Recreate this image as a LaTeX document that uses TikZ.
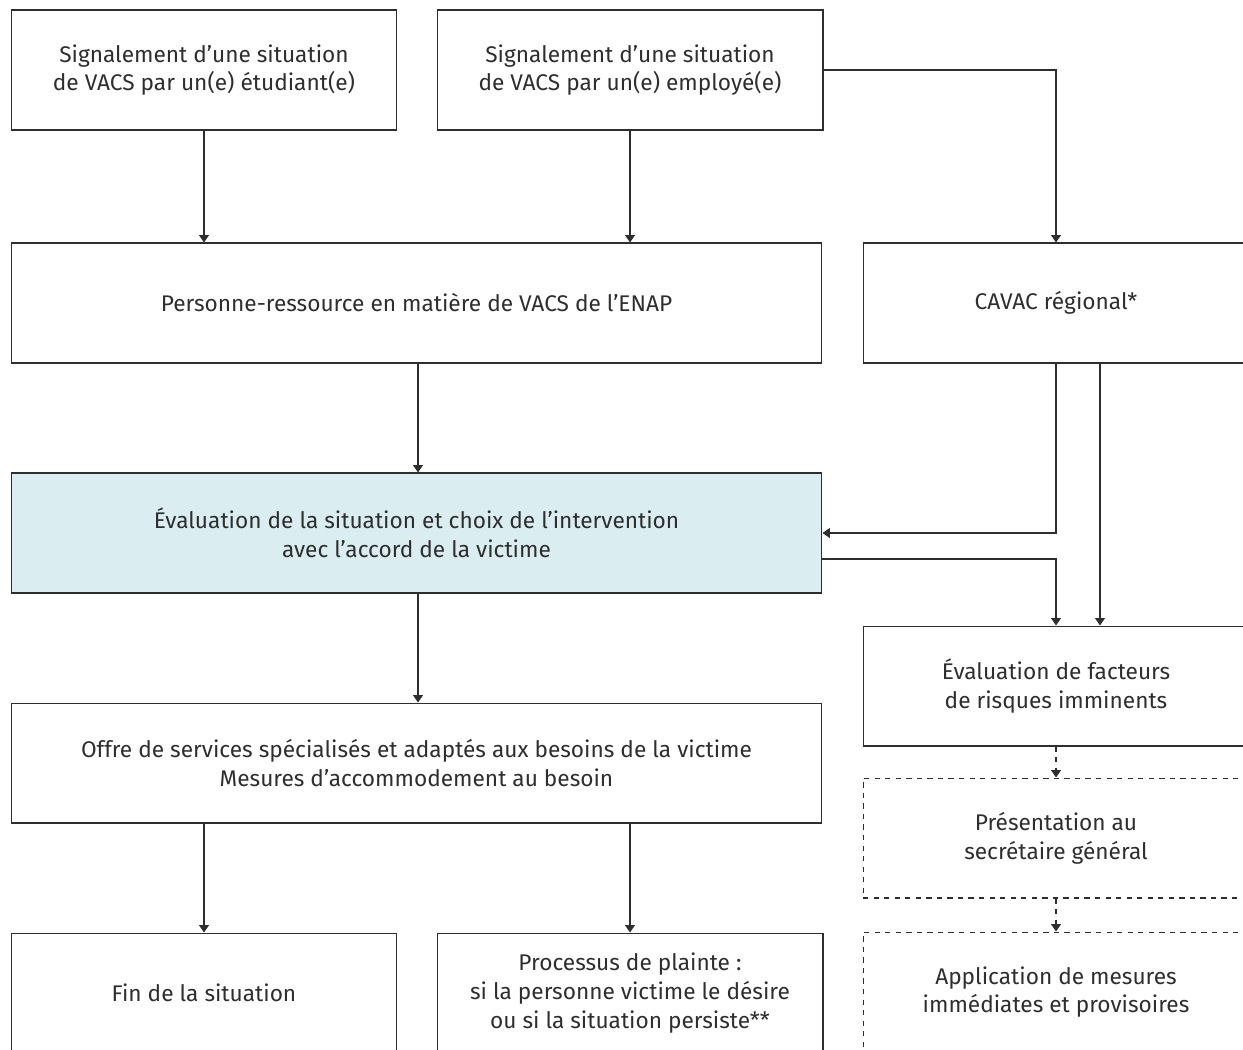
\documentclass[tikz,border=0pt]{standalone}
\usepackage{fontspec}
\setmainfont{Fira Sans}
\usetikzlibrary{arrows.meta}
\definecolor{boxline}{HTML}{2E2E2E}
\definecolor{paleblue}{HTML}{DAEEF1}
\begin{document}
\begin{tikzpicture}[x=0.02cm,y=-0.02cm,
	box/.style={draw=boxline,line width=0.6pt,minimum height=2.4cm,align=center,
		text=boxline,font=\fontsize{12.9}{16.4}\selectfont},
	smallbox/.style={box,minimum width=7.72cm},
	widebox/.style={box,minimum width=16.22cm},
	dashbox/.style={smallbox,dashed},
	arr/.style={draw=boxline,line width=0.6pt,-{Triangle[width=5.6pt,length=4.2pt]}},
	dasharr/.style={arr,dashed}]
	\useasboundingbox (0,0) rectangle (1243,1049);
	\clip (0,0) rectangle (1243,1049);
	\node[smallbox] (etud) at (204,70) {Signalement d’une situation\\de VACS par un(e) étudiant(e)};
	\node[smallbox] (empl) at (630,70) {Signalement d’une situation\\de VACS par un(e) employé(e)};
	\node[widebox] (pers) at (416.5,303) {Personne-ressource en matière de VACS de l’ENAP};
	\node[smallbox] (cavac) at (1056,303) {CAVAC régional*};
	\node[widebox,fill=paleblue] (eval) at (416.5,533) {Évaluation de la situation et choix de l’intervention\\avec l’accord de la victime};
	\node[smallbox] (risk) at (1056,686) {Évaluation de facteurs\\de risques imminents};
	\node[widebox] (offre) at (416.5,763) {Offre de services spécialisés et adaptés aux besoins de la victime\\Mesures d’accommodement au besoin};
	\node[dashbox] (pres) at (1056,838) {Présentation au\\secrétaire général};
	\node[dashbox] (appl) at (1056,992) {Application de mesures\\immédiates et provisoires};
	\node[smallbox] (fin) at (204,993) {Fin de la situation};
	\node[smallbox] (plainte) at (630,993) {Processus de plainte :\\si la personne victime le désire\\ou si la situation persiste**};
	\draw[arr] (etud) -- (etud |- pers.north);
	\draw[arr] (empl) -- (empl |- pers.north);
	\draw[arr] (empl.east) -| (cavac.north);
	\draw[arr] ([xshift=0.03cm]pers.south) -- ([xshift=0.03cm]eval.north);
	\draw[arr] (cavac.south) |- (eval.east);
	\draw[arr] ([xshift=0.88cm]cavac.south) -- ([xshift=0.88cm]risk.north);
	\draw[arr] ([yshift=-0.52cm]eval.east) -| (risk.north);
	\draw[arr] ([xshift=0.03cm]eval.south) -- ([xshift=0.03cm]offre.north);
	\draw[dasharr] (risk) -- (pres);
	\draw[dasharr] (pres) -- (appl);
	\draw[arr] (fin |- offre.south) -- (fin);
	\draw[arr] (plainte |- offre.south) -- (plainte);
\end{tikzpicture}
\end{document}
